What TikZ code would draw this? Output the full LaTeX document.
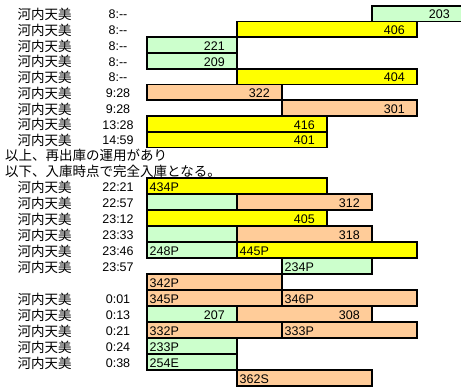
\documentclass[tikz,border=0pt]{standalone}
\usepackage{fontspec}
\setmainfont{Liberation Sans}
\newfontfamily\jp{Noto Sans CJK JP}
\definecolor{cg}{HTML}{CCFFCC}
\definecolor{cy}{HTML}{FFFF00}
\definecolor{co}{HTML}{FFCC99}
\tikzset{
  cellbox/.style={draw=black, line width=1.8pt},
  rlab/.style={anchor=east, inner sep=0pt, font=\fontsize{12.5}{13}\selectfont},
  llab/.style={anchor=west, inner sep=0pt, font=\fontsize{12.5}{13}\selectfont},
  nm/.style={anchor=west, inner sep=0pt, font=\jp\fontsize{13.5}{14}\selectfont},
  tm/.style={anchor=center, inner sep=0pt, font=\fontsize{12.5}{13}\selectfont},
}
% name, x1, x2, top, bottom, colour, label
\newcommand\cellR[7]{\draw[cellbox,fill=#6] (#2,#4) rectangle (#3,#5);
  \node[rlab] (#1) at ({#3-12},{(#4+#5)/2+1}) {#7};}
\newcommand\cellL[7]{\draw[cellbox,fill=#6] (#2,#4) rectangle (#3,#5);
  \node[llab] (#1) at ({#2+2.5},{(#4+#5)/2+1}) {#7};}
\newcommand\cellN[5]{\draw[cellbox,fill=#5] (#1,#3) rectangle (#2,#4);}
\newcommand\rowtxt[3]{\node[nm] (n#1) at (17.3,#2) {河内天美};
  \node[tm] (t#1) at (118,#2) {#3};}
\begin{document}
\begin{tikzpicture}[x=1pt,y=-1pt]
\useasboundingbox (0,0) rectangle (461,390);
\clip (0,0) rectangle (461,390);
\fill[white] (0,0) rectangle (461,390);
% top section
\cellN{372}{480}{5.7}{21.45}{cg}
\node[rlab] (c203) at (450,14.6) {203};
\cellR{c406}{237}{417}{21.45}{37.2}{cy}{406}
\cellR{c221}{147}{237}{37.2}{52.95}{cg}{221}
\cellR{c209}{147}{237}{52.95}{68.7}{cg}{209}
\cellR{c404}{237}{417}{68.7}{84.45}{cy}{404}
\cellR{c322}{147}{282}{84.45}{100.2}{co}{322}
\cellR{c301}{282}{417}{100.2}{115.95}{co}{301}
\cellR{c416}{147}{327}{115.95}{131.7}{cy}{416}
\cellR{c401}{147}{327}{131.7}{147.45}{cy}{401}
\rowtxt{1}{14.6}{8:-{}-}
\rowtxt{2}{30.3}{8:-{}-}
\rowtxt{3}{46.1}{8:-{}-}
\rowtxt{4}{61.8}{8:-{}-}
\rowtxt{5}{77.6}{8:-{}-}
\rowtxt{6}{93.3}{9:28}
\rowtxt{7}{109.1}{9:28}
\rowtxt{8}{124.8}{13:28}
\rowtxt{9}{140.6}{14:59}
\node[nm] (note1) at (5,155) {以上、再出庫の運用があり};
\node[nm] (note2) at (5,171.5) {以下、入庫時点で完全入庫となる。};
% bottom section
\cellL{c434P}{147}{327}{178.3}{194.3}{cy}{434P}
\cellN{147}{237}{194.3}{210.3}{cg}
\cellR{c312}{237}{372}{194.3}{210.3}{co}{312}
\cellR{c405}{147}{327}{210.3}{226.3}{cy}{405}
\cellN{147}{237}{226.3}{242.3}{cg}
\cellR{c318}{237}{372}{226.3}{242.3}{co}{318}
\cellL{c248P}{147}{237}{242.3}{258.3}{cg}{248P}
\cellL{c445P}{237}{417}{242.3}{258.3}{cy}{445P}
\cellL{c234P}{282}{372}{258.3}{274.3}{cg}{234P}
\cellL{c342P}{147}{282}{274.3}{290.3}{co}{342P}
\cellL{c345P}{147}{282}{290.3}{306.3}{co}{345P}
\cellL{c346P}{282}{417}{290.3}{306.3}{co}{346P}
\cellR{c207}{147}{237}{306.3}{322.3}{cg}{207}
\cellR{c308}{237}{372}{306.3}{322.3}{co}{308}
\cellL{c332P}{147}{282}{322.3}{338.3}{co}{332P}
\cellL{c333P}{282}{417}{322.3}{338.3}{co}{333P}
\cellL{c233P}{147}{237}{338.3}{354.3}{cg}{233P}
\cellL{c254E}{147}{237}{354.3}{370.3}{cg}{254E}
\cellL{c362S}{237}{372}{370.3}{386.3}{co}{362S}
\rowtxt{10}{187.3}{22:21}
\rowtxt{11}{203.3}{22:57}
\rowtxt{12}{219.3}{23:12}
\rowtxt{13}{235.3}{23:33}
\rowtxt{14}{251.3}{23:46}
\rowtxt{15}{267.3}{23:57}
\rowtxt{16}{299.3}{0:01}
\rowtxt{17}{315.3}{0:13}
\rowtxt{18}{331.3}{0:21}
\rowtxt{19}{347.3}{0:24}
\rowtxt{20}{363.3}{0:38}
\end{tikzpicture}
\end{document}
